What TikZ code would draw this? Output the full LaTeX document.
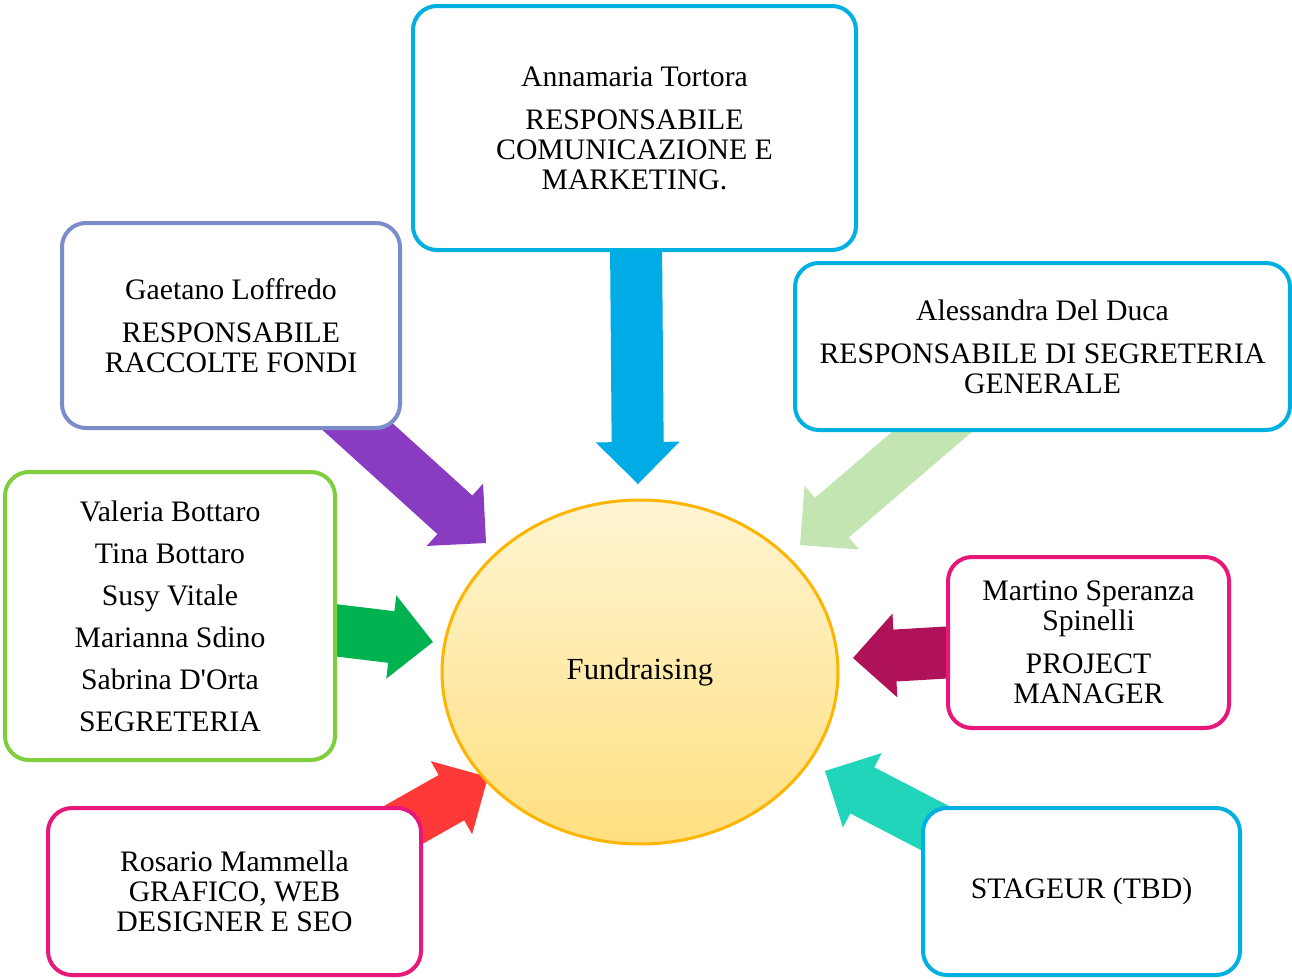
\documentclass[tikz,border=0pt]{standalone}
\usepackage{fontspec}
\setmainfont{Liberation Serif}
\usetikzlibrary{calc,shapes.geometric}

\definecolor{boxcyan}{RGB}{0,176,224}
\definecolor{boxlav}{RGB}{122,141,200}
\definecolor{boxgreen}{RGB}{126,206,62}
\definecolor{boxpink}{RGB}{232,24,122}
\definecolor{arrblue}{RGB}{0,171,230}
\definecolor{arrpurple}{RGB}{137,59,193}
\definecolor{arrlime}{RGB}{195,229,177}
\definecolor{arrgreen}{RGB}{0,178,80}
\definecolor{arrwine}{RGB}{175,18,89}
\definecolor{arrred}{RGB}{255,56,56}
\definecolor{arrteal}{RGB}{33,213,187}
\definecolor{fundline}{RGB}{255,180,0}
\definecolor{fundtop}{RGB}{255,245,210}
\definecolor{fundbot}{RGB}{255,223,128}

\newcommand{\rolefont}{\fontsize{22.3}{22.5}\selectfont}
% block arrow from #2 to #3
\newcommand{\fatarrow}[3]{%
  \coordinate (fa-h) at ($(#3)!31.5pt!(#2)$);
  \fill[#1] ($(#2)!19.5pt!90:(#3)$) -- ($(fa-h)!19.5pt!-90:(#2)$) -- ($(fa-h)!31.5pt!-90:(#2)$) -- (#3) -- ($(fa-h)!31.5pt!90:(#2)$) -- ($(fa-h)!19.5pt!90:(#2)$) -- ($(#2)!19.5pt!-90:(#3)$) -- cycle ;
}

\tikzset{every picture/.style={line width=0.75pt},
  rolebox/.style={draw, line width=3pt, rounded corners=18pt, fill=white, align=center, inner sep=0pt, font=\rolefont},
  fundcirc/.style={ellipse, draw=fundline, line width=2.25pt, top color=fundtop, bottom color=fundbot, inner sep=0pt, font=\fontsize{23}{25}\selectfont}}

\begin{document}
\begin{tikzpicture}[x=0.75pt,y=0.75pt,yscale=-1,xscale=1]
\useasboundingbox (0,0) rectangle (1292,978);

%Arrow ends
\coordinate (tortora-out) at (636,240);
\coordinate (tortora-in) at (638,484);
\coordinate (loffredo-out) at (327,399);
\coordinate (loffredo-in) at (486,543);
\coordinate (delduca-out) at (975,395);
\coordinate (delduca-in) at (800,545);
\coordinate (segreteria-out) at (325,629);
\coordinate (segreteria-in) at (433,642);
\coordinate (spinelli-out) at (955,652);
\coordinate (spinelli-in) at (853,658);
\coordinate (mammella-out) at (366,846);
\coordinate (mammella-in) at (488,777);
\coordinate (stageur-out) at (958,840);
\coordinate (stageur-in) at (825,771);

%Block arrows
\fatarrow{arrblue}{tortora-out}{tortora-in}
\fatarrow{arrpurple}{loffredo-out}{loffredo-in}
\fatarrow{arrlime}{delduca-out}{delduca-in}
\fatarrow{arrgreen}{segreteria-out}{segreteria-in}
\fatarrow{arrwine}{spinelli-out}{spinelli-in}
\fatarrow{arrred}{mammella-out}{mammella-in}
\fatarrow{arrteal}{stageur-out}{stageur-in}

%Shape: Ellipse
\node[fundcirc, minimum width=297pt, minimum height=258pt] (fund) at (640,672) {Fundraising};

%Shape: Rounded boxes
\node[rolebox, draw=boxcyan, minimum width=332.25pt, minimum height=183pt] (tortora) at (634.5,128)
  {Annamaria Tortora\\[9.75pt] RESPONSABILE\\ COMUNICAZIONE E\\ MARKETING.};
\node[rolebox, draw=boxlav, minimum width=253.5pt, minimum height=153.75pt] (loffredo) at (231,325.5)
  {Gaetano Loffredo\\[9.75pt] RESPONSABILE\\ RACCOLTE FONDI};
\node[rolebox, draw=boxcyan, minimum width=371.25pt, minimum height=125.25pt] (delduca) at (1042.5,346.5)
  {Alessandra Del Duca\\[9.75pt] RESPONSABILE DI SEGRETERIA\\ GENERALE};
\node[rolebox, draw=boxgreen, minimum width=247.5pt, minimum height=216pt] (segreteria) at (170,616)
  {Valeria Bottaro\\[9pt] Tina Bottaro\\[9pt] Susy Vitale\\[9pt] Marianna Sdino\\[9pt] Sabrina D\textquotesingle Orta\\[9pt] SEGRETERIA};
\node[rolebox, draw=boxpink, minimum width=210.75pt, minimum height=128.25pt] (spinelli) at (1088.5,642.5)
  {Martino Speranza\\ Spinelli\\[9.75pt] PROJECT\\ MANAGER};
\node[rolebox, draw=boxpink, minimum width=279.75pt, minimum height=125.25pt] (mammella) at (234.5,891.5)
  {Rosario Mammella\\ GRAFICO, WEB\\ DESIGNER E SEO};
\node[rolebox, draw=boxcyan, minimum width=237.75pt, minimum height=125.25pt] (stageur) at (1081.5,891.5)
  {STAGEUR (TBD)};

\end{tikzpicture}
\end{document}
